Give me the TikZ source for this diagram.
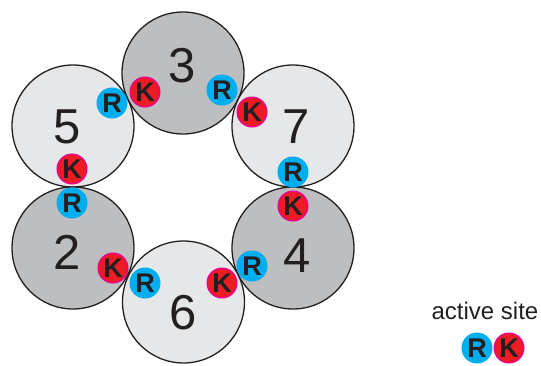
\documentclass[tikz,border=0pt]{standalone}
\usepackage{fontspec}
\setmainfont{Liberation Sans}
\definecolor{lightg}{HTML}{E6E7E8}
\definecolor{darkg}{HTML}{BCBEC0}
\definecolor{outl}{HTML}{231F20}
\definecolor{rcyan}{HTML}{00AEEF}
\definecolor{kred}{HTML}{ED1C24}
\definecolor{kmag}{HTML}{EC008C}
\begin{document}
\begin{tikzpicture}[x=1pt,y=-1pt,
  sub/.style={circle,draw=outl,line width=1.3pt,minimum size=122pt,inner sep=0pt},
  light/.style={sub,fill=lightg},
  dark/.style={sub,fill=darkg},
  num/.style={font=\fontsize{49}{49}\selectfont,text=outl,inner sep=0pt},
  sitefont/.style={text=outl,font=\fontsize{27}{27}\selectfont\bfseries},
  rsite/.style={circle,fill=rcyan,minimum size=31pt,inner sep=0pt,sitefont},
  ksite/.style={circle,fill=kred,draw=kmag,line width=1.4pt,minimum size=29.6pt,inner sep=0pt,sitefont}]
\useasboundingbox (0,0) rectangle (541,365);
% subunits
\node[dark]  (c3) at (183,73) {};
\node[light] (c5) at (73,126) {};
\node[light] (c7) at (293,126) {};
\node[dark]  (c2) at (73,248) {};
\node[dark]  (c4) at (293,248) {};
\node[light] (c6) at (183.5,302) {};
% numbers
\node[num] (n3) at (182,66) {3};
\node[num] (n5) at (67,127) {5};
\node[num] (n7) at (296,127) {7};
\node[num] (n2) at (67,252) {2};
\node[num] (n4) at (297,256) {4};
\node[num] (n6) at (183,313) {6};
% active sites
\node[rsite] (r53) at (112,103) {R};
\node[ksite] (k53) at (145,92) {K};
\node[rsite] (r37) at (222,90) {R};
\node[ksite] (k37) at (252,112) {K};
\node[ksite] (k52) at (72,169) {K};
\node[rsite] (r52) at (72,203) {R};
\node[rsite] (r74) at (293,172) {R};
\node[ksite] (k74) at (293,206) {K};
\node[ksite] (k26) at (113,268) {K};
\node[rsite] (r26) at (145,283) {R};
\node[ksite] (k64) at (222,283) {K};
\node[rsite] (r64) at (252,266) {R};
% legend
\node[font=\fontsize{24}{24}\selectfont,text=outl] (leg) at (485,311) {active site};
\node[rsite] (lr) at (477,348) {R};
\node[ksite] (lk) at (509,348) {K};
\end{tikzpicture}
\end{document}
